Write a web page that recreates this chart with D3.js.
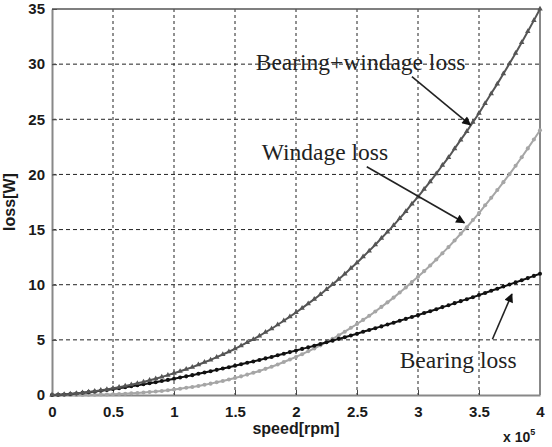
<!DOCTYPE html>
<html>
<head>
<meta charset="utf-8">
<script src="https://cdn.jsdelivr.net/npm/d3@7"></script>
<style>
  body{margin:0;background:#fff;}
  svg{display:block;}
  .tick text{font-family:"Liberation Sans",Arial,sans-serif;font-weight:bold;font-size:15px;fill:#1a1a1a;}
</style>
</head>
<body>
<div id="chart"></div>
<script>
// speed in units of 10^5 rpm
const speed = [0,0.05,0.1,0.15,0.2,0.25,0.3,0.35,0.4,0.45,
  0.5,0.55,0.6,0.65,0.7,0.75,0.8,0.85,0.9,0.95,
  1,1.05,1.1,1.15,1.2,1.25,1.3,1.35,1.4,1.45,
  1.5,1.55,1.6,1.65,1.7,1.75,1.8,1.85,1.9,1.95,
  2,2.05,2.1,2.15,2.2,2.25,2.3,2.35,2.4,2.45,
  2.5,2.55,2.6,2.65,2.7,2.75,2.8,2.85,2.9,2.95,
  3,3.05,3.1,3.15,3.2,3.25,3.3,3.35,3.4,3.45,
  3.5,3.55,3.6,3.65,3.7,3.75,3.8,3.85,3.9,3.95,4];

const bearingLoss = [0,0.02,0.05,0.09,0.14,0.20,0.26,0.32,0.39,0.46,
  0.54,0.62,0.70,0.79,0.88,0.97,1.07,1.16,1.27,1.37,
  1.47,1.58,1.69,1.80,1.92,2.04,2.16,2.28,2.40,2.52,
  2.65,2.78,2.92,3.04,3.18,3.32,3.45,3.60,3.74,3.89,
  4.03,4.18,4.32,4.47,4.62,4.78,4.93,5.09,5.24,5.40,
  5.56,5.73,5.89,6.06,6.22,6.39,6.55,6.73,6.90,7.08,
  7.24,7.43,7.60,7.78,7.97,8.13,8.33,8.51,8.69,8.87,
  9.06,9.25,9.45,9.63,9.83,10.02,10.21,10.41,10.60,10.80,11.00];

const windageLoss = [0,0,0,0,0.01,0.01,0.02,0.03,0.04,0.05,
  0.07,0.09,0.12,0.15,0.18,0.22,0.27,0.31,0.37,0.43,
  0.50,0.57,0.65,0.73,0.82,0.93,1.03,1.15,1.27,1.40,
  1.54,1.69,1.85,2.01,2.18,2.37,2.56,2.77,2.99,3.22,
  3.45,3.70,3.96,4.22,4.50,4.80,5.10,5.41,5.74,6.09,
  6.44,6.81,7.18,7.57,7.99,8.40,8.83,9.29,9.74,10.25,
  10.72,11.23,11.75,12.29,12.86,13.41,14.01,14.62,15.21,15.86,
  16.49,17.20,17.88,18.58,19.30,20.03,20.78,21.56,22.36,23.17,24.00];

const totalLoss = [0,0.02,0.05,0.09,0.15,0.21,0.28,0.35,0.43,0.51,
  0.61,0.71,0.82,0.94,1.06,1.19,1.34,1.47,1.64,1.80,
  1.97,2.15,2.34,2.53,2.74,2.97,3.19,3.43,3.67,3.92,
  4.19,4.47,4.77,5.05,5.36,5.69,6.01,6.37,6.73,7.11,
  7.48,7.88,8.28,8.69,9.12,9.58,10.03,10.50,10.98,11.49,
  12.00,12.54,13.07,13.63,14.21,14.79,15.38,16.02,16.64,17.33,
  17.96,18.66,19.35,20.07,20.83,21.54,22.34,23.13,23.90,24.73,
  25.55,26.45,27.33,28.21,29.13,30.05,30.99,31.97,32.96,33.97,35.00];

const xTicks = [0,0.5,1,1.5,2,2.5,3,3.5,4];
const yTicks = [0,5,10,15,20,25,30,35];

// annotation text and arrows, in data units
const notes = [
  {text:"Bearing+windage loss", tx:1.67, ty:29.47, x1:2.95, y1:28.86, x2:3.43, y2:24.48},
  {text:"Windage loss", tx:1.72, ty:21.3, x1:2.58, y1:20.7, x2:3.38, y2:15.62},
  {text:"Bearing loss", tx:2.85, ty:2.45, x1:3.61, y1:5.05, x2:3.77, y2:9.16}
];

const width = 552, height = 447;
const margin = {left:52, right:12, top:9, bottom:52};
const plotW = width - margin.left - margin.right;
const plotH = height - margin.top - margin.bottom;

const svg = d3.select("#chart").append("svg")
  .attr("width", width).attr("height", height);

const g = svg.append("g")
  .attr("transform","translate(" + margin.left + "," + margin.top + ")");

const x = d3.scaleLinear().domain([0,4]).range([0,plotW]);
const y = d3.scaleLinear().domain([0,35]).range([plotH,0]);

// grid
g.append("g").selectAll("line")
  .data(xTicks.slice(1,-1)).enter().append("line")
  .attr("x1",d=>x(d)).attr("x2",d=>x(d))
  .attr("y1",0).attr("y2",plotH)
  .attr("stroke","#222").attr("stroke-width",1)
  .attr("stroke-dasharray","3,3");
g.append("g").selectAll("line")
  .data(yTicks.slice(1,-1)).enter().append("line")
  .attr("x1",0).attr("x2",plotW)
  .attr("y1",d=>y(d)).attr("y2",d=>y(d))
  .attr("stroke","#222").attr("stroke-width",1)
  .attr("stroke-dasharray","4,3");

// axes, matlab style ticks pointing inward
const xAxis = g.append("g")
  .attr("transform","translate(0," + plotH + ")")
  .call(d3.axisBottom(x).tickValues(xTicks).tickFormat(d3.format("")).tickSizeInner(-5).tickSizeOuter(0).tickPadding(11));
const yAxis = g.append("g")
  .call(d3.axisLeft(y).tickValues(yTicks).tickSizeInner(-5).tickSizeOuter(0).tickPadding(7));
[xAxis,yAxis].forEach(a=>{
  a.select(".domain").attr("stroke","#888").attr("stroke-width",2);
  a.selectAll(".tick line").attr("stroke","#444");
});
// top and right frame
g.append("line").attr("x1",0).attr("x2",plotW).attr("y1",0).attr("y2",0)
  .attr("stroke","#555").attr("stroke-width",1.5);
g.append("line").attr("x1",plotW).attr("x2",plotW).attr("y1",0).attr("y2",plotH)
  .attr("stroke","#888").attr("stroke-width",2);

// series
const series = [
  {vals:windageLoss, color:"#a6a6a6", sym:d3.symbolCircle, size:13},
  {vals:bearingLoss, color:"#111", sym:d3.symbolCircle, size:13},
  {vals:totalLoss, color:"#555", sym:d3.symbolTriangle, size:13}
];
const line = d3.line().x((d,i)=>x(speed[i])).y(d=>y(d));
series.forEach(s=>{
  g.append("path").datum(s.vals)
    .attr("d",line).attr("fill","none")
    .attr("stroke",s.color).attr("stroke-width",2);
  g.append("g").selectAll("path")
    .data(s.vals).enter().append("path")
    .attr("d",d3.symbol().type(s.sym).size(s.size))
    .attr("transform",(d,i)=>"translate(" + x(speed[i]) + "," + y(d) + ")")
    .attr("fill",s.color);
});

// annotations
svg.append("defs").append("marker")
  .attr("id","head").attr("viewBox","0 0 10 10")
  .attr("refX",9).attr("refY",5)
  .attr("markerWidth",12).attr("markerHeight",9)
  .attr("markerUnits","userSpaceOnUse")
  .attr("orient","auto")
  .append("path").attr("d","M0,0L10,5L0,10z").attr("fill","#111");

notes.forEach(n=>{
  g.append("line")
    .attr("x1",x(n.x1)).attr("y1",y(n.y1))
    .attr("x2",x(n.x2)).attr("y2",y(n.y2))
    .attr("stroke","#222").attr("stroke-width",1.6)
    .attr("marker-end","url(#head)");
  g.append("text")
    .attr("x",x(n.tx)).attr("y",y(n.ty))
    .style("font-family","'Liberation Serif','Times New Roman',serif")
    .style("font-size","23.5px").attr("fill","#222")
    .text(n.text);
});

// axis labels
svg.append("text")
  .attr("x",margin.left + x(2)).attr("y",434)
  .attr("text-anchor","middle")
  .style("font-family","'Liberation Sans',Arial,sans-serif")
  .style("font-weight","bold").style("font-size","16px").attr("fill","#1a1a1a")
  .text("speed[rpm]");
svg.append("text")
  .attr("transform","translate(15," + (margin.top + y(17.5)) + ") rotate(-90)")
  .attr("text-anchor","middle")
  .style("font-family","'Liberation Sans',Arial,sans-serif")
  .style("font-weight","bold").style("font-size","16px").attr("fill","#1a1a1a")
  .text("loss[W]");
const expo = svg.append("text")
  .attr("x",503).attr("y",442)
  .style("font-family","'Liberation Sans',Arial,sans-serif")
  .style("font-weight","bold").style("font-size","14px").attr("fill","#1a1a1a");
expo.append("tspan").text("x 10");
expo.append("tspan").attr("dy",-7).style("font-size","9px").text("5");
</script>
</body>
</html>
